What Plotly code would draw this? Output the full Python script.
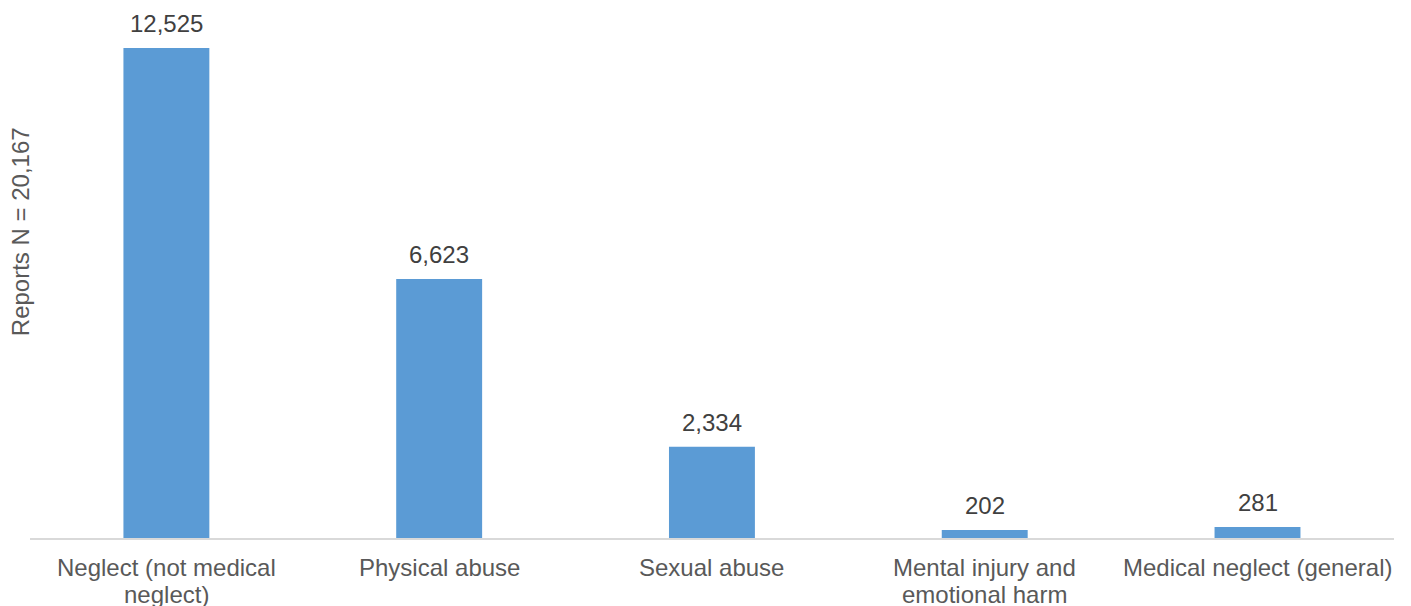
import plotly.graph_objects as go

categories = ["Neglect (not medical<br>neglect)", "Physical abuse", "Sexual abuse",
              "Mental injury and<br>emotional harm", "Medical neglect (general)"]
values = [12525, 6623, 2334, 202, 281]
value_labels = ["12,525", "6,623", "2,334", "202", "281"]
y_title = "Reports N = 20,167"

FONT = "Liberation Sans, Arial, sans-serif"

fig = go.Figure()
fig.add_trace(go.Bar(
    x=categories, y=values,
    marker=dict(color="#5B9BD5", line=dict(width=0)),
    width=0.315,
    hoverinfo="skip",
))

# data labels
for c, v, lab in zip(categories, values, value_labels):
    fig.add_annotation(
        x=c, y=v, text=lab, showarrow=False, xanchor="center", yanchor="bottom",
        yshift=9, font=dict(family=FONT, size=24, color="#404040"),
    )

# category labels (tight line spacing like the reference)
for c in categories:
    for i, line in enumerate(c.split("<br>")):
        fig.add_annotation(
            x=c, y=0, yref="paper", text=line, showarrow=False,
            xanchor="center", yanchor="top", yshift=-14 - 27 * i,
            font=dict(family=FONT, size=24, color="#595959"),
        )

fig.add_annotation(
    text=y_title, xref="paper", yref="paper", x=0, y=0.577,
    xshift=-10, xanchor="center", yanchor="middle", textangle=-90,
    showarrow=False, font=dict(family=FONT, size=24, color="#595959"),
)

fig.update_layout(
    width=1411, height=606,
    margin=dict(l=22, r=25, t=0, b=76),
    paper_bgcolor="white", plot_bgcolor="white",
    showlegend=False,
    xaxis=dict(
        showline=True, linecolor="#D9D9D9", linewidth=1.5,
        ticks="", showticklabels=False, automargin=False,
        showgrid=False, fixedrange=True,
    ),
    yaxis=dict(
        range=[0, 13548], showticklabels=False, showgrid=False, automargin=False,
        zeroline=False, showline=False, ticks="",
    ),
)

fig.write_html("out.html")
